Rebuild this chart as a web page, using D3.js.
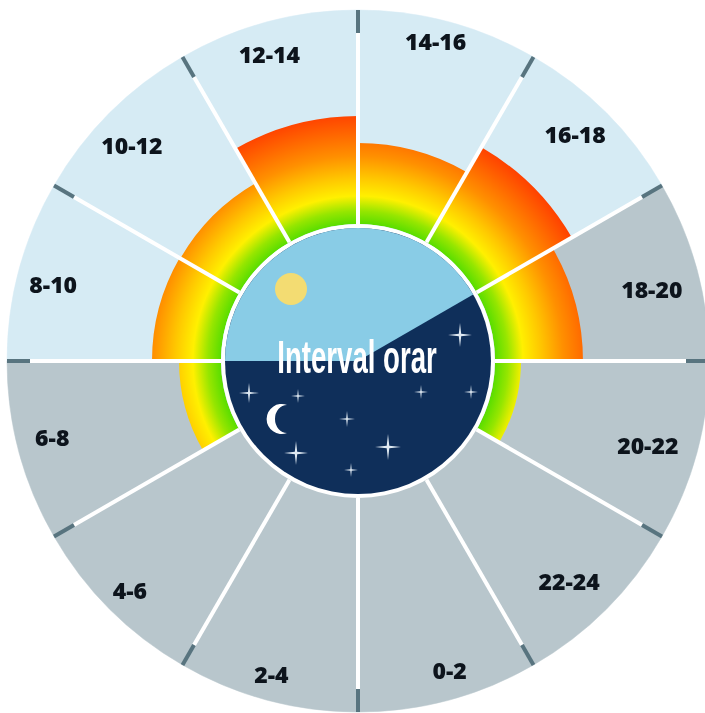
<!doctype html>
<html>
  <head>
    <meta charset="utf-8">
    <title>Interval orar</title>
    <script src="https://d3js.org/d3.v7.min.js"></script>
    <style type="text/css">
      body { margin: 0; background-color: #ffffff }
      svg { display: block; filter: blur(0.5px) }
    </style>
  </head>
  <body>
    <script>
      // time slots clockwise from the top
      var slots = ["14-16", "16-18", "18-20", "20-22", "22-24", "0-2", "2-4", "4-6", "6-8", "8-10", "10-12", "12-14"];
      // bar height for each slot
      var values = [38, 51.6, 41.3, 12.2, 0, 0, 0, 0, 19.7, 32.4, 32, 50.7];
      var daySlots = ["14-16", "16-18", "8-10", "10-12", "12-14"];

      var w = 705, h = 713;
      var cx = 358, cy = 361;
      var outerR = 351, innerR = 137;

      // hand nudges for the labels, they do not sit on one circle
      var nudgeX = [0, 5, 4, 0, -1, 14, -9, -16, -16, -15, -14, -11];
      var nudgeY = [-29, -14, 7, 7, 9, 20, 24, 18, -1, 2, -3, -16];

      var svg = d3.select("body").append("svg").attr("width", w).attr("height", h);
      var defs = svg.append("defs");

      var angle = d3.scaleBand().domain(slots).range([0, 2 * Math.PI]);
      var radius = d3.scaleLinear().domain([0, 100]).range([innerR, 350]);

      // heat gradient, centred on the dial
      var grad = defs.append("radialGradient").attr("id", "heat")
        .attr("gradientUnits", "userSpaceOnUse")
        .attr("cx", 0).attr("cy", 0).attr("r", 250);
      [[0.54, "#4fdc00"], [0.6, "#96e600"], [0.66, "#fff000"], [0.73, "#ffc800"], [0.82, "#ff9000"], [1, "#ff3c00"]]
        .forEach(function(s) { grad.append("stop").attr("offset", s[0]).attr("stop-color", s[1]); });

      var g = svg.append("g").attr("transform", "translate(" + cx + "," + cy + ")");

      // background sectors
      var sector = d3.arc()
        .innerRadius(0).outerRadius(outerR)
        .startAngle(function(d) { return angle(d); })
        .endAngle(function(d) { return angle(d) + angle.bandwidth(); });
      g.selectAll("path.bg").data(slots).enter().append("path")
        .attr("class", "bg")
        .attr("d", sector)
        .style("fill", function(d) { return daySlots.indexOf(d) >= 0 ? "#d6ebf4" : "#b8c6cc"; })
        .style("stroke", function(d) { return daySlots.indexOf(d) >= 0 ? "#d6ebf4" : "#b8c6cc"; })
        .style("stroke-width", 0.5);

      // bars
      var bar = d3.arc()
        .innerRadius(innerR)
        .outerRadius(function(d) { return radius(values[slots.indexOf(d)]); })
        .startAngle(function(d) { return angle(d); })
        .endAngle(function(d) { return angle(d) + angle.bandwidth(); });
      g.selectAll("path.bar").data(slots.filter(function(d, i) { return values[i] > 0; })).enter().append("path")
        .attr("class", "bar")
        .attr("d", bar)
        .style("fill", "url(#heat)");

      // white spokes with dark tips
      function px(a, r) { return r * Math.sin(a); }
      function py(a, r) { return -r * Math.cos(a); }
      var spokes = g.selectAll("g.spoke").data(slots).enter().append("g").attr("class", "spoke");
      spokes.append("line")
        .attr("x1", function(d) { return px(angle(d), innerR); })
        .attr("y1", function(d) { return py(angle(d), innerR); })
        .attr("x2", function(d) { return px(angle(d), 328); })
        .attr("y2", function(d) { return py(angle(d), 328); })
        .style("stroke", "#ffffff").style("stroke-width", 4);
      spokes.append("line")
        .attr("x1", function(d) { return px(angle(d), 328); })
        .attr("y1", function(d) { return py(angle(d), 328); })
        .attr("x2", function(d) { return px(angle(d), outerR); })
        .attr("y2", function(d) { return py(angle(d), outerR); })
        .style("stroke", "#58747f").style("stroke-width", 4);

      // slot labels
      g.selectAll("text.slot").data(slots).enter().append("text")
        .attr("class", "slot")
        .attr("x", function(d, i) { return px(angle(d) + angle.bandwidth() / 2, 300) + nudgeX[i]; })
        .attr("y", function(d, i) { return py(angle(d) + angle.bandwidth() / 2, 300) + nudgeY[i]; })
        .attr("dy", "0.35em")
        .attr("text-anchor", "middle")
        .style("font-family", "'Open Sans', 'Noto Sans', sans-serif")
        .style("font-weight", 800)
        .style("font-size", "23px")
        .style("fill", "#0d141c")
        .text(function(d) { return d; });

      // centre dial: night disc, then the daylight wedge on top
      g.append("circle").attr("r", innerR).style("fill", "#ffffff");
      g.append("circle").attr("r", innerR - 4).style("fill", "#0f2f5a");
      g.append("path")
        .attr("d", d3.arc().innerRadius(0).outerRadius(innerR - 4)
          .startAngle(-Math.PI / 2).endAngle(Math.PI / 3))
        .style("fill", "#89cce6");

      // sun
      g.append("circle").attr("cx", -67).attr("cy", -72).attr("r", 16).style("fill", "#f3dc72");

      // moon
      g.append("path")
        .attr("d", "M10,-14 A15,15 0 1,0 10,14 A12,14 0 0,1 10,-14 Z")
        .attr("transform", "translate(-81,58)")
        .style("fill", "#ffffff");

      // stars: dx, dy, size
      var stars = [[102, -26, 12], [-109, 32, 10], [-60, 35, 7], [63, 31, 7], [113, 31, 7], [-11, 58, 8], [30, 86, 13], [-62, 92, 12], [-7, 109, 7]];
      var starPath = function(s) {
        var t = s * 0.1;
        return "M0," + (-s) + "L" + t + "," + (-t) + "L" + s + ",0L" + t + "," + t + "L0," + s + "L" + (-t) + "," + t + "L" + (-s) + ",0L" + (-t) + "," + (-t) + "Z";
      };
      g.selectAll("path.star").data(stars).enter().append("path")
        .attr("class", "star")
        .attr("d", function(d) { return starPath(d[2]); })
        .attr("transform", function(d) { return "translate(" + d[0] + "," + d[1] + ")"; })
        .style("fill", "#dfe9f2");

      // title
      g.append("text")
        .attr("transform", "translate(-1,12) scale(0.6,1)")
        .attr("text-anchor", "middle")
        .style("font-family", "'Liberation Sans Narrow', 'Liberation Sans', sans-serif")
        .style("font-weight", 700)
        .style("font-size", "46px")
        .style("fill", "#ffffff")
        .text("Interval orar");
    </script>
  </body>
</html>
